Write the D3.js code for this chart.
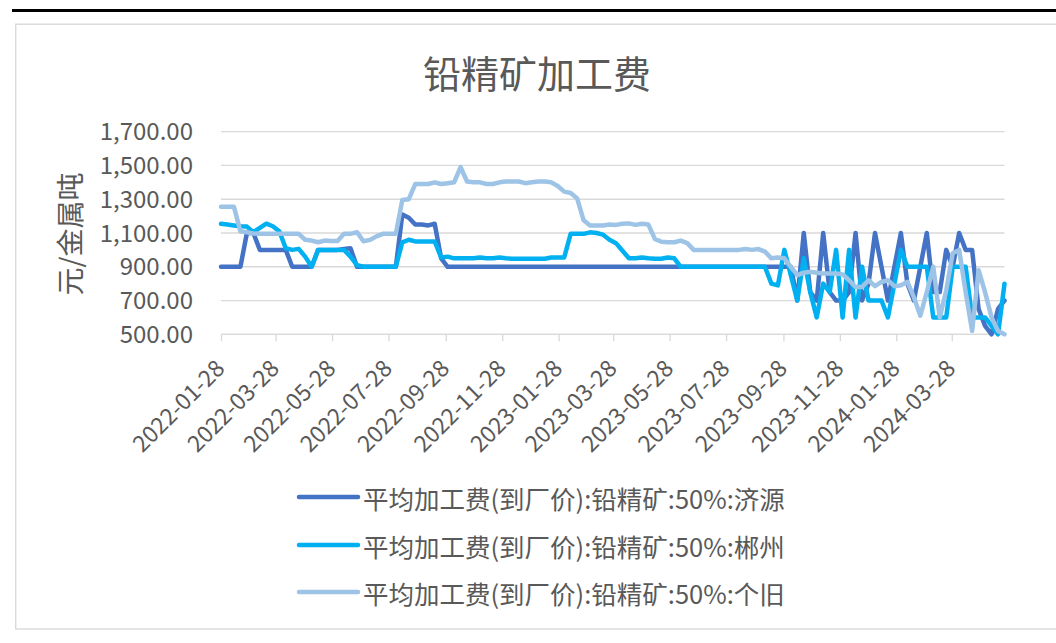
<!DOCTYPE html>
<html>
<head>
<meta charset="utf-8">
<script src="https://cdn.jsdelivr.net/npm/d3@7"></script>
<style>
  html, body { margin: 0; padding: 0; background: #ffffff; }
  svg { display: block; }
  text { font-family: "Noto Sans CJK SC", "Noto Sans", sans-serif; fill: #595959; }
</style>
</head>
<body>
<svg id="chart" width="1056" height="643"></svg>
<script>
// ---------------- data ----------------
const title = "铅精矿加工费";
const yAxisTitle = "元/金属吨";
const seriesNames = [
  "平均加工费(到厂价):铅精矿:50%:济源",
  "平均加工费(到厂价):铅精矿:50%:郴州",
  "平均加工费(到厂价):铅精矿:50%:个旧"
];
const seriesColors = ["#4472C4", "#00B0F0", "#9DC3E6"];

// weekly observation dates
const dates = [
  "2022-01-28",
  "2022-02-04","2022-02-11","2022-02-18","2022-02-25",
  "2022-03-04","2022-03-11","2022-03-18","2022-03-25",
  "2022-04-01","2022-04-08","2022-04-15","2022-04-22","2022-04-29",
  "2022-05-06","2022-05-13","2022-05-20","2022-05-27",
  "2022-06-03","2022-06-10","2022-06-17","2022-06-24",
  "2022-07-01","2022-07-08","2022-07-15","2022-07-22","2022-07-29",
  "2022-08-05","2022-08-12","2022-08-19","2022-08-26",
  "2022-09-02","2022-09-09","2022-09-16","2022-09-23","2022-09-30",
  "2022-10-07","2022-10-14","2022-10-21","2022-10-28",
  "2022-11-04","2022-11-11","2022-11-18","2022-11-25",
  "2022-12-02","2022-12-09","2022-12-16","2022-12-23","2022-12-30",
  "2023-01-06","2023-01-13","2023-01-20","2023-01-27",
  "2023-02-03","2023-02-10","2023-02-17","2023-02-24",
  "2023-03-03","2023-03-10","2023-03-17","2023-03-24","2023-03-31",
  "2023-04-07","2023-04-14","2023-04-21","2023-04-28",
  "2023-05-05","2023-05-12","2023-05-19","2023-05-26",
  "2023-06-02","2023-06-09","2023-06-16","2023-06-23","2023-06-30",
  "2023-07-07","2023-07-14","2023-07-21","2023-07-28",
  "2023-08-04","2023-08-11","2023-08-18","2023-08-25",
  "2023-09-01","2023-09-08","2023-09-15","2023-09-22","2023-09-29",
  "2023-10-06","2023-10-13","2023-10-20","2023-10-27",
  "2023-11-03","2023-11-10","2023-11-17","2023-11-24",
  "2023-12-01","2023-12-08","2023-12-15","2023-12-22","2023-12-29",
  "2024-01-05","2024-01-12","2024-01-19","2024-01-26",
  "2024-02-02","2024-02-09","2024-02-16","2024-02-23",
  "2024-03-01","2024-03-08","2024-03-15","2024-03-22","2024-03-29",
  "2024-04-05","2024-04-12","2024-04-19","2024-04-26",
  "2024-05-03","2024-05-10","2024-05-17","2024-05-24"
];

// 济源
const jiyuan = [
  900, 900, 900, 900, 1100, 1100, 1000, 1000, 1000, 1000,
  1000, 900, 900, 900, 900, 1000, 1000, 1000, 1000, 1005,
  1010, 900, 900, 900, 900, 900, 900, 900, 1210, 1190,
  1150, 1150, 1145, 1155, 950, 900, 900, 900, 900, 900,
  900, 900, 900, 900, 900, 900, 900, 900, 900, 900,
  900, 900, 900, 900, 900, 900, 900, 900, 900, 900,
  900, 900, 900, 900, 900, 900, 900, 900, 900, 900,
  900, 900, 900, 900, 900, 900, 900, 900, 900, 900,
  900, 900, 900, 900, 900, 900, 900, 900, 900, 700,
  1100, 750, 700, 1100, 750, 700, 700, 750, 1100, 700,
  800, 1100, 900, 700, 900, 1100, 800, 700, 900, 1100,
  750, 750, 1000, 900, 1100, 1000, 1000, 650, 550, 500,
  650, 700
];

// 郴州
const chenzhou = [
  1155, 1150, 1145, 1140, 1138, 1105, 1130, 1155, 1140, 1110,
  1010, 1000, 1006, 960, 900, 1000, 1000, 1000, 1000, 1000,
  960, 910, 900, 900, 900, 900, 900, 900, 1045, 1060,
  1050, 1050, 1050, 1050, 955, 960, 950, 950, 950, 950,
  955, 950, 950, 955, 950, 948, 948, 948, 948, 948,
  948, 955, 955, 955, 1095, 1095, 1095, 1104, 1100, 1090,
  1060, 1040, 995, 950, 950, 955, 950, 948, 948, 955,
  950, 900, 900, 900, 900, 900, 900, 900, 900, 900,
  900, 900, 900, 900, 900, 800, 790, 1000, 850, 700,
  950, 750, 600, 800, 750, 1000, 600, 1000, 600, 900,
  700, 700, 700, 600, 800, 1000, 900, 900, 900, 900,
  600, 600, 600, 900, 900, 900, 600, 600, 600, 550,
  500, 800
];

// 个旧
const gejiu = [
  1255, 1255, 1255, 1110, 1104, 1097, 1095, 1095, 1095, 1095,
  1095, 1095, 1095, 1060, 1055, 1045, 1055, 1052, 1052, 1095,
  1095, 1105, 1051, 1059, 1080, 1095, 1095, 1095, 1295, 1300,
  1390, 1390, 1390, 1400, 1390, 1395, 1400, 1490, 1405, 1400,
  1400, 1390, 1390, 1400, 1405, 1405, 1405, 1395, 1400, 1405,
  1405, 1400, 1378, 1345, 1337, 1305, 1175, 1145, 1145, 1145,
  1150, 1148, 1155, 1157, 1148, 1155, 1150, 1065, 1048, 1045,
  1045, 1055, 1040, 1000, 1000, 1000, 1000, 1000, 1000, 1000,
  1000, 1005, 1000, 1005, 990, 950, 955, 950, 900, 850,
  865, 870, 865, 860, 860, 860, 855, 820, 780, 780,
  820, 785, 810, 820, 785, 790, 810, 720, 610, 750,
  900, 600, 760, 980, 1000, 750, 520, 880, 750, 600,
  520, 500
];

const yTicks = [500, 700, 900, 1100, 1300, 1500, 1700];
const xTickLabels = [
  "2022-01-28","2022-03-28","2022-05-28","2022-07-28","2022-09-28",
  "2022-11-28","2023-01-28","2023-03-28","2023-05-28","2023-07-28",
  "2023-09-28","2023-11-28","2024-01-28","2024-03-28"
];

// ---------------- drawing ----------------
const svg = d3.select("#chart");
const parse = d3.timeParse("%Y-%m-%d");
const dateObjs = dates.map(parse);

const plot = { left: 221, right: 1004.5, top: 131.7, bottom: 334.3 };

const x = d3.scaleTime()
  .domain([dateObjs[0], dateObjs[dateObjs.length - 1]])
  .range([plot.left, plot.right]);
const y = d3.scaleLinear()
  .domain([500, 1700])
  .range([plot.bottom, plot.top]);

// outer frame
svg.append("line")
  .attr("x1", 12).attr("x2", 1056).attr("y1", 10.5).attr("y2", 10.5)
  .attr("stroke", "#000").attr("stroke-width", 2.8);
svg.append("rect")
  .attr("x", 15.7).attr("y", 24.2).attr("width", 1060).attr("height", 604.8)
  .attr("fill", "none").attr("stroke", "#D9D9D9").attr("stroke-width", 1.4);

// title
svg.append("text")
  .attr("x", 537).attr("y", 71)
  .attr("text-anchor", "middle").attr("dominant-baseline", "central")
  .attr("font-size", 38)
  .text(title);

// y axis title
svg.append("text")
  .attr("transform", "translate(69,234) rotate(-90)")
  .attr("text-anchor", "middle").attr("dominant-baseline", "central")
  .attr("font-size", 28)
  .text(yAxisTitle);

// gridlines
const grid = svg.append("g");
grid.selectAll("line")
  .data(yTicks)
  .join("line")
  .attr("x1", plot.left).attr("x2", plot.right)
  .attr("y1", d => y(d)).attr("y2", d => y(d))
  .attr("stroke", "#D9D9D9").attr("stroke-width", 1.3);

// y axis labels
const fmt = d3.format(",.2f");
const yAxis = d3.axisLeft(y).tickValues(yTicks).tickFormat(fmt).tickSize(0).tickPadding(28);
const gy = svg.append("g").attr("transform", `translate(${plot.left},0)`).call(yAxis);
gy.select(".domain").remove();
gy.selectAll("text")
  .attr("font-size", 24)
  .attr("font-family", "Noto Sans CJK SC, Noto Sans, sans-serif")
  .attr("fill", "#595959")
  .attr("dy", "0.34em");

// x axis
const xTickDates = xTickLabels.map(parse);
const xAxis = d3.axisBottom(x).tickValues(xTickDates).tickSize(7).tickFormat("");
const gx = svg.append("g").attr("transform", `translate(0,${plot.bottom})`).call(xAxis);
gx.select(".domain").attr("stroke", "#D9D9D9").attr("stroke-width", 1.3)
  .attr("d", `M${plot.left},0H${plot.right}`);
gx.selectAll(".tick line").attr("stroke", "#D9D9D9").attr("stroke-width", 1.3);

svg.append("g").selectAll("text")
  .data(xTickLabels)
  .join("text")
  .attr("transform", d => `translate(${x(parse(d)) - 2},${363}) rotate(-45)`)
  .attr("text-anchor", "end").attr("dominant-baseline", "central")
  .attr("font-size", 23)
  .text(d => d);

// series lines
const seriesData = [jiyuan, chenzhou, gejiu];
const line = d3.line()
  .x((d, i) => x(dateObjs[i]))
  .y(d => y(d));

svg.append("g").selectAll("path")
  .data(seriesData)
  .join("path")
  .attr("d", d => line(d))
  .attr("fill", "none")
  .attr("stroke", (d, i) => seriesColors[i])
  .attr("stroke-width", 4.5)
  .attr("stroke-linejoin", "round")
  .attr("stroke-linecap", "round");

// legend
const legendY = [497, 545, 592];
const lg = svg.append("g");
seriesNames.forEach((name, i) => {
  lg.append("line")
    .attr("x1", 299).attr("x2", 358)
    .attr("y1", legendY[i]).attr("y2", legendY[i])
    .attr("stroke", seriesColors[i]).attr("stroke-width", 4.5)
    .attr("stroke-linecap", "round");
  lg.append("text")
    .attr("x", 363).attr("y", legendY[i])
    .attr("dominant-baseline", "central")
    .attr("font-size", 25.5)
    .text(name);
});
</script>
</body>
</html>
